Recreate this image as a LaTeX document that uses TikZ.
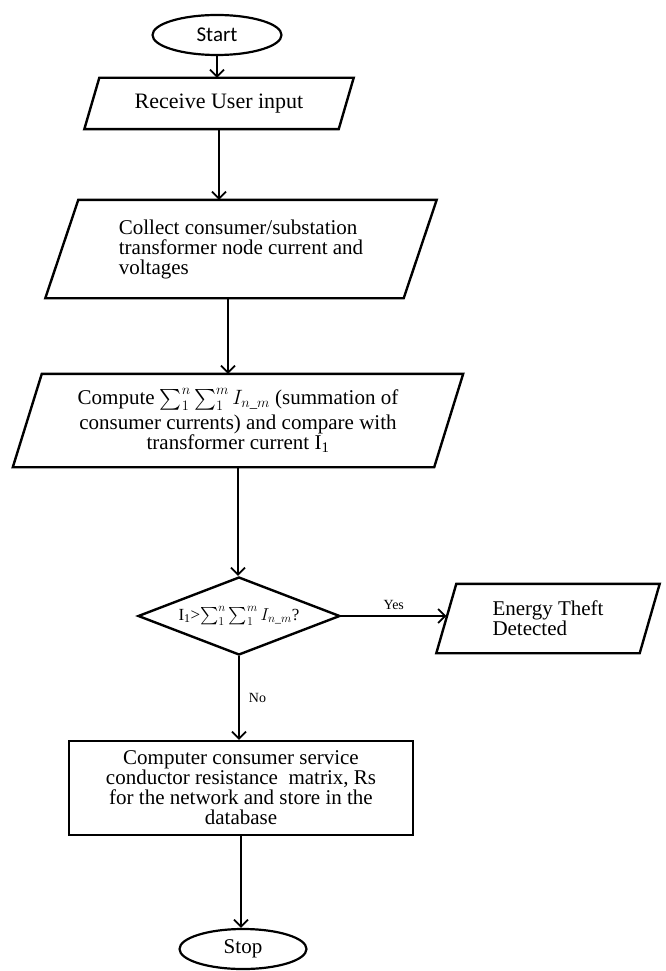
\documentclass[tikz,border=0pt]{standalone}
\usepackage{amsmath}
\usepackage{fontspec}
\setmainfont{Liberation Serif}
\newfontfamily\startfont{Carlito}
\usetikzlibrary{shapes.geometric,arrows.meta,positioning}

\begin{document}
\begin{tikzpicture}[x=1pt, y=-1pt,
    box/.style={draw=none, inner sep=0pt, font=\fontsize{21}{20}\selectfont},
    terminal/.style={ellipse, draw, line width=2.2pt, inner sep=0pt, minimum width=129pt, minimum height=40pt},
    decision/.style={diamond, draw, line width=2.4pt, inner sep=0pt, shape aspect=2.6, minimum width=202pt, minimum height=78pt, font=\fontsize{17}{18}\selectfont},
    frame/.style={line width=2.4pt, line join=miter},
    arr/.style={-{Straight Barb[length=7pt,width=14pt]}, line width=1.8pt},
    lbl/.style={inner sep=0pt, font=\fontsize{14}{16}\selectfont}]
    \useasboundingbox (0,0) rectangle (665,971);

    \node[terminal, font=\startfont\fontsize{21}{22}\selectfont] (start) at (217,35) {Start};
    \node[box, minimum width=254pt, minimum height=51pt, font=\fontsize{22}{20}\selectfont] (receive) at (219,103.5) {Receive User input};
    \node[box, minimum width=358pt, minimum height=98pt, align=left] (collect) at (241,249) {Collect consumer/substation\\transformer node current and\\voltages};
    \node[box, minimum width=421pt, minimum height=93pt, align=center] (compute) at (238,420.5) {Compute $\sum_1^n\sum_1^m I_{n\_m}$ (summation of\\[3pt]consumer currents) and compare with\\transformer current I\textsubscript{1}};
    \node[decision] (check) at (239,616) {I\textsubscript{1}>$\sum_1^n\sum_1^m I_{n\_m}$?};
    \node[box, minimum width=203pt, minimum height=69pt, align=left] (theft) at (548,618.5) {Energy Theft\\Detected};
    \node[box, draw, line width=2.4pt, minimum width=344pt, minimum height=94pt, align=center] (matrix) at (241,788) {Computer consumer service\\conductor resistance~ matrix, Rs\\for the network and store in the\\database};
    \node[terminal, minimum width=127pt, minimum height=40pt, font=\fontsize{21}{22}\selectfont] (stop) at (243,949) {Stop};

    % slanted input/output boxes
    \draw[frame] ([xshift=7.5]receive.north west) -- ([xshift=7.5]receive.north east) -- ([xshift=-7.5]receive.south east) -- ([xshift=-7.5]receive.south west) -- cycle;
    \draw[frame] ([xshift=16.5]collect.north west) -- ([xshift=16.5]collect.north east) -- ([xshift=-16.5]collect.south east) -- ([xshift=-16.5]collect.south west) -- cycle;
    \draw[frame] ([xshift=14.5]compute.north west) -- ([xshift=14.5]compute.north east) -- ([xshift=-14.5]compute.south east) -- ([xshift=-14.5]compute.south west) -- cycle;
    \draw[frame] ([xshift=10]theft.north west) -- ([xshift=10]theft.north east) -- ([xshift=-10]theft.south east) -- ([xshift=-10]theft.south west) -- cycle;

    % arrows
    \coordinate (c1) at ([xshift=-13pt]collect.south);
    \draw[arr] (start.south) -- (start.south |- receive.north);
    \draw[arr] (receive.south) -- (receive.south |- collect.north);
    \draw[arr] (c1) -- (c1 |- compute.north);
    \draw[arr] (compute.south) -- (compute.south |- check.north);
    \draw[arr] (check.east) -- node[lbl, above=5pt] {Yes} (check.east -| theft.west);
    \draw[arr] (check.south) -- node[lbl, right=9pt] {No} (check.south |- matrix.north);
    \draw[arr] (matrix.south) -- (matrix.south |- stop.north);
\end{tikzpicture}
\end{document}
